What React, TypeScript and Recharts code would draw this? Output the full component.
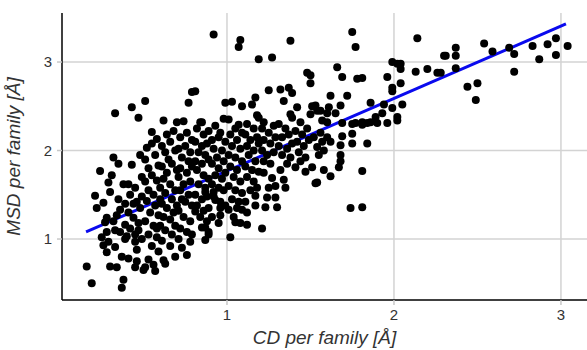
import React from "react";
import { ScatterChart, Scatter, XAxis, YAxis, ReferenceLine, Label } from "recharts";

// [CD per family, MSD per family] pairs, grouped by region of the plot
const upperLeft: number[][] = [
  [0.33,2.42],[0.43,2.49],[0.47,2.37],[0.51,2.56],[0.62,2.34],[0.70,2.32],[0.74,2.33],[0.79,2.66],[0.77,2.54],[0.84,2.32],
  [0.92,3.31],[1.08,3.25],[1.07,3.17],[1.38,3.24],[1.19,3.03],[1.27,3.05],[1.48,2.88],[1.50,2.85],[1.50,2.76],[0.81,2.67],
  [1.25,2.68],[1.32,2.69],[1.37,2.71],[1.39,2.65],[1.17,2.60],[1.34,2.56],[1.15,2.52],[1.09,2.50],[0.99,2.54],[1.03,2.55],
  [1.42,2.49],[1.51,2.50],[1.50,2.41],[1.18,2.40],[1.19,2.37],[1.38,2.41],[1.39,2.37],[0.98,2.36],[0.85,2.32],[1.07,2.29],
  [1.22,2.32],[1.44,2.32],[1.54,2.45],
];
const upperRight: number[][] = [
  [1.75,3.34],[1.77,3.17],[2.14,3.27],[2.30,3.07],[1.99,3.00],[2.02,2.98],[2.04,2.98],[2.04,2.92],[2.13,2.89],[2.20,2.92],
  [2.26,2.88],[1.66,2.94],[1.69,2.83],[1.78,2.81],[1.81,2.82],[1.96,2.83],[2.04,2.76],[1.99,2.71],[1.99,2.67],[1.62,2.62],
  [1.72,2.62],[1.86,2.54],[1.94,2.52],[2.05,2.52],[1.53,2.51],[1.61,2.49],[1.68,2.51],[1.56,2.45],[1.65,2.42],[1.60,2.42],
  [2.02,2.38],[1.99,2.48],[1.93,2.42],[1.89,2.38],[1.86,2.32],[1.81,2.32],[1.77,2.31],
  [2.28,2.88],[2.31,3.07],[2.37,3.16],[2.37,3.07],[2.37,2.93],[2.44,2.72],[2.50,2.76],[2.49,2.57],[2.54,3.21],[2.59,3.12],
  [2.69,3.16],[2.72,3.09],[2.72,2.89],[2.83,3.18],[2.87,3.03],[2.92,3.20],[2.97,3.27],[2.97,3.08],[3.04,3.18],
];
const middleRight: number[][] = [
  [1.57,2.34],[1.60,2.32],[1.69,2.31],[1.75,2.30],[1.81,2.29],[1.84,2.31],[1.90,2.31],[1.96,2.31],[2.02,2.34],[1.75,2.19],
  [1.75,2.08],[1.84,2.08],[1.69,2.16],[1.60,2.15],[1.62,2.10],[1.57,2.10],[1.54,2.04],[1.68,2.06],[1.68,1.95],[1.68,1.88],
  [1.67,1.81],[1.58,1.78],[1.62,1.71],[1.54,1.64],[1.53,1.63],[1.81,1.77],[1.74,1.35],[1.81,1.36],
];
const coreLeft: number[][] = [
  [0.16,0.69],[0.19,0.50],[0.21,1.49],[0.24,1.77],[0.22,1.35],[0.26,1.41],[0.26,0.93],[0.28,0.85],[0.28,1.08],[0.28,1.24],
  [0.29,1.64],[0.27,1.19],[0.25,1.02],[0.29,0.97],
  [0.30,1.53],[0.30,0.69],[0.32,1.92],[0.33,0.91],[0.34,1.27],[0.34,0.68],[0.37,0.45],[0.38,0.54],[0.36,1.08],[0.39,1.16],
  [0.35,1.45],[0.38,1.62],[0.31,1.72],[0.36,1.33],[0.39,1.00],[0.33,1.10],[0.37,0.80],[0.35,1.85],[0.39,1.40],[0.32,1.20],
  [0.43,1.84],[0.48,1.95],[0.41,1.62],[0.45,1.58],[0.49,1.70],[0.42,1.50],[0.46,1.42],[0.48,1.35],[0.41,1.30],[0.44,1.24],
  [0.47,1.18],[0.42,1.12],[0.45,1.05],[0.49,1.00],[0.45,0.97],[0.46,0.88],[0.46,0.75],[0.45,0.68],[0.41,0.78],[0.49,1.48],
  [0.44,1.40],[0.47,1.10],[0.40,1.03],
  [0.55,2.21],[0.52,2.03],[0.55,2.08],[0.58,2.13],[0.51,1.90],[0.57,1.95],[0.53,1.80],[0.59,1.83],[0.55,1.72],[0.51,1.65],
  [0.58,1.66],[0.53,1.55],[0.56,1.50],[0.60,1.58],[0.52,1.43],[0.57,1.38],[0.54,1.30],[0.59,1.27],[0.51,1.20],[0.56,1.15],
  [0.53,1.05],[0.58,1.02],[0.55,0.92],[0.59,0.86],[0.57,0.64],[0.53,0.77],[0.56,0.71],[0.51,0.68],[0.50,0.65],[0.60,1.45],
  [0.58,1.12],
];
const coreMiddle: number[][] = [
  [0.64,2.18],[0.68,2.22],[0.61,2.05],[0.66,2.10],[0.63,1.98],[0.69,2.00],[0.65,1.90],[0.61,1.82],[0.67,1.85],[0.64,1.75],
  [0.70,1.78],[0.62,1.68],[0.66,1.62],[0.69,1.55],[0.63,1.52],[0.61,1.40],[0.67,1.45],[0.64,1.35],[0.70,1.38],[0.62,1.25],
  [0.66,1.22],[0.69,1.15],[0.63,1.10],[0.67,1.05],[0.61,0.98],[0.66,0.92],[0.62,0.76],[0.63,0.72],[0.69,0.80],[0.68,1.30],
  [0.60,1.15],
  [0.72,2.15],[0.76,2.20],[0.79,2.12],[0.71,2.02],[0.75,2.05],[0.78,1.98],[0.73,1.92],[0.77,1.88],[0.72,1.80],[0.76,1.75],
  [0.79,1.82],[0.71,1.70],[0.74,1.62],[0.78,1.65],[0.72,1.55],[0.77,1.50],[0.75,1.42],[0.79,1.38],[0.71,1.32],[0.74,1.25],
  [0.78,1.20],[0.72,1.12],[0.76,1.08],[0.73,0.90],[0.76,0.82],[0.78,0.97],[0.71,1.00],[0.79,1.05],[0.73,1.45],
  [0.82,2.25],[0.86,2.18],[0.89,2.22],[0.81,2.10],[0.85,2.05],[0.88,2.08],[0.83,1.98],[0.87,1.95],[0.81,1.88],[0.85,1.85],
  [0.89,1.90],[0.82,1.78],[0.86,1.72],[0.89,1.68],[0.83,1.62],[0.87,1.58],[0.81,1.50],[0.85,1.45],[0.88,1.48],[0.82,1.38],
  [0.86,1.32],[0.89,1.35],[0.84,1.25],[0.88,1.20],[0.81,1.31],[0.85,1.13],[0.87,1.13],[0.89,1.08],[0.87,0.99],[0.89,1.05],
  [0.87,1.53],[0.92,1.53],[0.93,1.44],
];
const coreRight: number[][] = [
  [0.93,2.28],[0.96,2.20],[0.91,2.12],[0.95,2.15],[0.99,2.10],[0.92,2.02],[0.97,2.00],[0.94,1.92],[0.98,1.88],[0.91,1.85],
  [0.95,1.80],[0.93,1.72],[0.97,1.68],[0.99,1.75],[0.91,1.62],[0.95,1.58],[0.98,1.55],[0.92,1.48],[0.96,1.42],[0.96,1.35],
  [0.99,1.38],[0.96,1.27],[0.95,1.18],[0.91,1.25],
  [1.01,2.35],[1.05,2.25],[1.02,2.18],[1.06,2.12],[1.09,2.20],[1.03,2.05],[1.08,2.02],[1.01,1.95],[1.05,1.92],[1.09,1.88],
  [1.02,1.82],[1.06,1.78],[1.04,1.70],[1.08,1.65],[1.01,1.60],[1.05,1.55],[1.09,1.52],[1.03,1.45],[1.07,1.42],[1.01,1.33],
  [1.04,1.25],[1.05,1.19],[1.08,1.18],[1.02,1.02],[1.06,1.35],[1.09,1.33],
  [1.12,2.30],[1.16,2.25],[1.11,2.18],[1.14,2.12],[1.18,2.15],[1.12,2.05],[1.16,2.00],[1.19,2.08],[1.13,1.95],[1.17,1.88],
  [1.11,1.82],[1.15,1.78],[1.19,1.76],[1.12,1.70],[1.16,1.65],[1.14,1.55],[1.18,1.58],[1.17,1.49],[1.11,1.42],[1.12,1.16],
  [1.12,1.30],[1.17,1.38],
  [1.21,2.25],[1.25,2.20],[1.28,2.28],[1.22,2.12],[1.26,2.08],[1.29,2.15],[1.21,2.00],[1.24,1.95],[1.28,1.98],[1.22,1.88],
  [1.26,1.85],[1.22,1.75],[1.27,1.69],[1.24,1.47],[1.29,1.47],[1.23,1.36],[1.21,1.12],[1.29,1.60],[1.25,1.58],
  [1.31,2.30],[1.35,2.25],[1.33,2.15],[1.37,2.18],[1.31,2.05],[1.36,2.02],[1.39,2.08],[1.33,1.95],[1.38,1.92],[1.32,1.78],
  [1.34,1.67],[1.30,1.36],[1.36,1.85],[1.35,1.58],
  [1.41,2.22],[1.45,2.18],[1.48,2.25],[1.42,2.10],[1.46,2.05],[1.43,1.98],[1.47,1.92],[1.41,1.81],[1.47,1.76],[1.44,1.88],
  [1.49,2.12],[1.51,1.81],[1.56,2.20],[1.52,2.15],[1.55,1.95],[1.58,2.00],
];

const allPoints = [...upperLeft, ...upperRight, ...middleRight, ...coreLeft, ...coreMiddle, ...coreRight].map(
  ([cd, msd]) => ({ cd, msd })
);

// fitted regression line endpoints
const fitX = [0.156, 3.03];
const fitY = [1.08, 3.43];

const xTicks = [1, 2, 3];
const yTicks = [1, 2, 3];

const Dot = (p: any) => <circle cx={p.cx} cy={p.cy} r={4} fill="#000" />;

export default function App() {
  return (
    <div style={{ position: "absolute", left: 0, top: 0, fontFamily: "Liberation Sans, Arial, sans-serif" }}>
      <ScatterChart width={587} height={350} margin={{ top: 13, right: 0, bottom: 0, left: 0 }}>
        <XAxis
          type="number"
          dataKey="cd"
          domain={[0.012, 3.156]}
          ticks={xTicks}
          height={50}
          axisLine={{ stroke: "#000", strokeWidth: 1.5 }}
          tickLine={{ stroke: "#c8c8c8", strokeWidth: 1.5 }}
          tickSize={5}
          tickMargin={4}
          tick={{ fill: "#333", fontSize: 15 }}
          allowDataOverflow
        >
          <Label
            value="CD per family [Å]"
            position="insideBottom"
            offset={6}
            style={{ fontStyle: "italic", fontSize: 19, fill: "#333" }}
          />
        </XAxis>
        <YAxis
          type="number"
          dataKey="msd"
          domain={[0.311, 3.554]}
          ticks={yTicks}
          width={62}
          axisLine={{ stroke: "#000", strokeWidth: 1.5 }}
          tickLine={{ stroke: "#c8c8c8", strokeWidth: 1.5 }}
          tickSize={5}
          tickMargin={5}
          tick={{ fill: "#333", fontSize: 15 }}
          allowDataOverflow
        >
          <Label
            value="MSD per family [Å]"
            angle={-90}
            position="insideLeft"
            offset={13}
            style={{ fontStyle: "italic", fontSize: 19, fill: "#333", textAnchor: "middle" }}
          />
        </YAxis>
        {xTicks.map((t) => (
          <ReferenceLine key={"gx" + t} x={t} stroke="#d3d3d3" strokeWidth={1.5} />
        ))}
        {yTicks.map((t) => (
          <ReferenceLine key={"gy" + t} y={t} stroke="#d3d3d3" strokeWidth={1.5} />
        ))}
        <Scatter data={allPoints} shape={Dot} isAnimationActive={false} />
        <ReferenceLine
          segment={[
            { x: fitX[0], y: fitY[0] },
            { x: fitX[1], y: fitY[1] },
          ]}
          stroke="#0a0aee"
          strokeWidth={3}
          ifOverflow="visible"
        />
      </ScatterChart>
    </div>
  );
}
